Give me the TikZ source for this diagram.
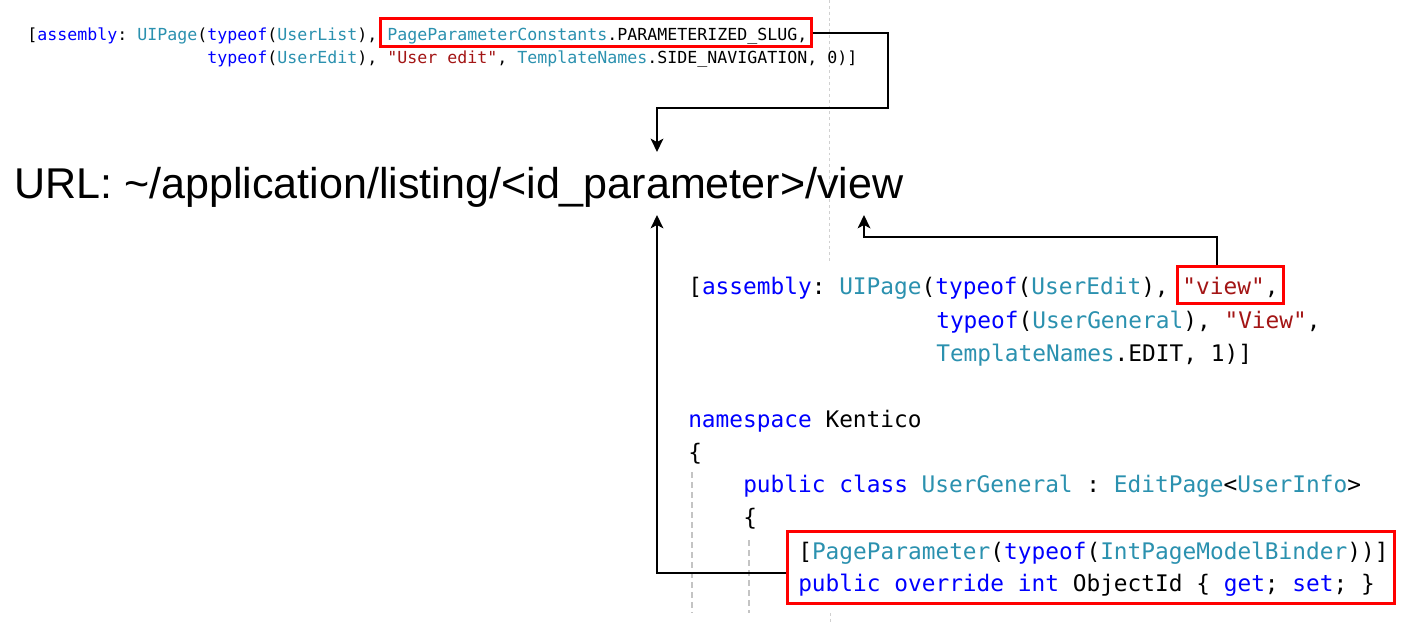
\documentclass[tikz,border=0pt]{standalone}
\usepackage{fontspec}
\setmainfont{Liberation Sans}
\newfontfamily\codefont{DejaVu Sans Mono}
\usetikzlibrary{arrows.meta}
\frenchspacing
\definecolor{kwblue}{HTML}{0000FF}
\definecolor{tyteal}{HTML}{2B91AF}
\definecolor{stred}{HTML}{A31515}
\definecolor{boxred}{HTML}{FF0000}
\definecolor{guide}{HTML}{C4C4C4}
\newcommand\kw[1]{\textcolor{kwblue}{#1}}
\newcommand\ty[1]{\textcolor{tyteal}{#1}}
\newcommand\st[1]{\textcolor{stred}{#1}}
\tikzset{
  smallcode/.style={anchor=base west, inner sep=0pt, font=\codefont\frenchspacing\fontsize{12.46pt}{14pt}\selectfont},
  bigcode/.style={anchor=base west, inner sep=0pt, font=\codefont\frenchspacing\fontsize{17.1pt}{20pt}\selectfont},
  redbox/.style={draw=boxred, line width=2.25pt, inner sep=0pt},
  arr/.style={draw=black, line width=1.5pt, -{Stealth[length=10pt, width=9.5pt, inset=2.5pt]}},
  guideline/.style={draw=guide, line width=1.4pt, dash pattern=on 4.5pt off 3pt},
  faintline/.style={draw=guide!80, line width=0.7pt, dash pattern=on 2.2pt off 2.2pt}
}
\begin{document}
\begin{tikzpicture}[x=0.75pt, y=-0.75pt]
\useasboundingbox (0,0) rectangle (1411,624);
\fill[white] (0,0) rectangle (1411,624);
% faint guide lines
\draw[faintline] (829,0) -- (829,262);
\draw[faintline] (830,613) -- (830,624);
\draw[guideline] (692,472) -- (692,613);
\draw[guideline] (749,540) -- (749,613);
% top code
\node[smallcode] (t1) at (27,41) {[\kw{assembly}: \ty{UIPage}(\kw{typeof}(\ty{UserList}), \ty{PageParameterConstants}.PARAMETERIZED\_SLUG,};
\node[smallcode] (t2) at (207,64) {\kw{typeof}(\ty{UserEdit}), \st{"User edit"}, \ty{TemplateNames}.SIDE\_NAVIGATION, 0)]};
% URL
\node[anchor=base west, inner sep=0pt, font=\fontsize{32.3pt}{38pt}\selectfont] (url) at (14,199) {URL: \textasciitilde/application/listing/<id\_parameter>/view};
% bottom code
\node[bigcode] (b1) at (688,295) {[\kw{assembly}: \ty{UIPage}(\kw{typeof}(\ty{UserEdit}), \st{"view"},};
\node[bigcode] (b2) at (936,328) {\kw{typeof}(\ty{UserGeneral}), \st{"View"},};
\node[bigcode] (b3) at (936,361) {\ty{TemplateNames}.EDIT, 1)]};
\node[bigcode] (b4) at (688,427) {\kw{namespace} Kentico};
\node[bigcode] (b5) at (688,460) {\{};
\node[bigcode] (b6) at (743,492) {\kw{public} \kw{class} \ty{UserGeneral} : \ty{EditPage}<\ty{UserInfo}>};
\node[bigcode] (b7) at (743,525) {\{};
\node[bigcode] (b8) at (798,559) {[\ty{PageParameter}(\kw{typeof}(\ty{IntPageModelBinder}))]};
\node[bigcode] (b9) at (798,591) {\kw{public} \kw{override} \kw{int} ObjectId \{ \kw{get}; \kw{set}; \}};
% red boxes
\node[redbox, minimum width=323.25pt, minimum height=21pt] (box1) at (595.5,33) {};
\node[redbox, minimum width=79.5pt, minimum height=27pt] (box2) at (1230,285) {};
\node[redbox, minimum width=455.25pt, minimum height=54pt] (box3) at (1090.5,567) {};
% arrow coordinates
\coordinate (k1) at (888,108);
\coordinate (tip1) at (657,152);
\coordinate (tip2) at (657,215);
\coordinate (k3) at (864,237);
\coordinate (tip3) at (864,215);
% arrows
\draw[arr] (box1.east) -| (k1) -| (tip1);
\draw[arr] ([yshift=-4.5pt]box3.west) -| (tip2);
\draw[arr] ([xshift=-9.75pt]box2.north) |- (k3) -- (tip3);
\end{tikzpicture}
\end{document}
